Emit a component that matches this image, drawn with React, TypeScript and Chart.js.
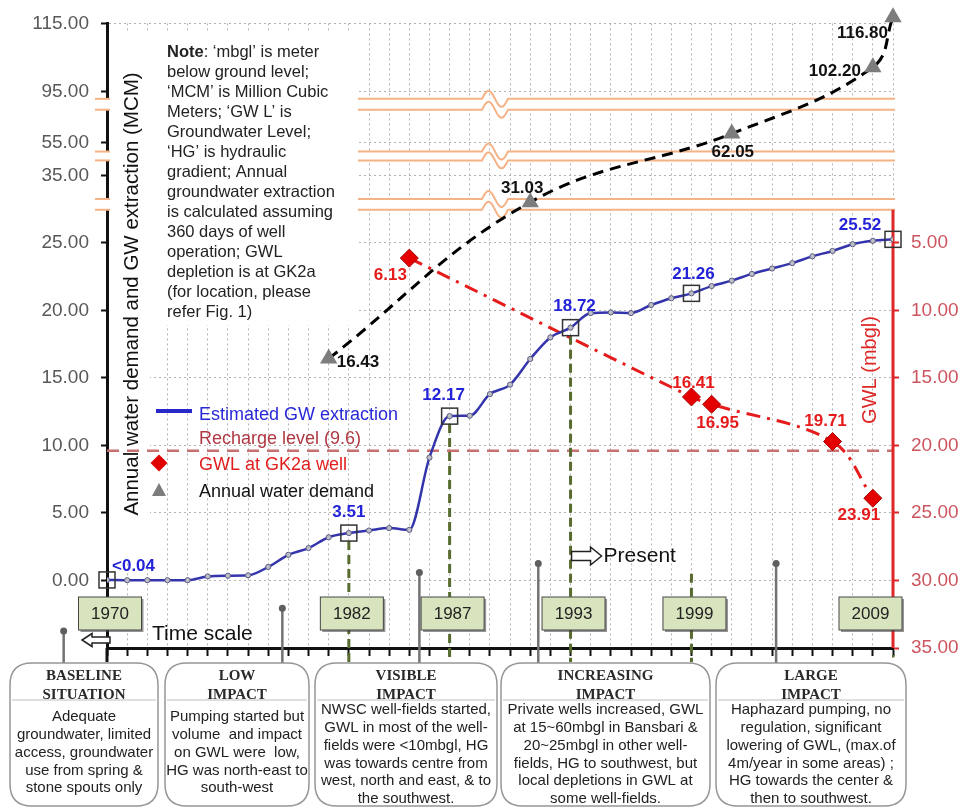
import React, { useEffect, useRef } from 'react';
import { Chart, LinearScale, registerables } from 'chart.js';

Chart.register(...registerables);

// ---------------- data ----------------
const years = [
  1970, 1971, 1972, 1973, 1974, 1975, 1976, 1977, 1978, 1979,
  1980, 1981, 1982, 1983, 1984, 1985, 1986, 1987, 1988, 1989,
  1990, 1991, 1992, 1993, 1994, 1995, 1996, 1997, 1998, 1999,
  2000, 2001, 2002, 2003, 2004, 2005, 2006, 2007, 2008, 2009,
];
const gwExtraction = [
  0.04, 0.02, 0.02, 0.02, 0.02, 0.3, 0.35, 0.38, 1.0, 1.9,
  2.4, 3.2, 3.51, 3.7, 3.88, 3.75, 9.1, 12.17, 12.2, 13.8,
  14.5, 16.4, 18.0, 18.72, 19.8, 19.85, 19.8, 20.4, 20.9, 21.26,
  21.8, 22.2, 22.7, 23.1, 23.5, 24.0, 24.4, 24.9, 25.3, 25.52,
];
const milestoneYears = [1970, 1982, 1987, 1993, 1999, 2009];
const milestoneLabels = ['<0.04', '3.51', '12.17', '18.72', '21.26', '25.52'];
const demandYears = [1981, 1991, 2001, 2008, 2009];
const demandValues = [16.43, 31.03, 62.05, 102.2, 116.8];
const gwlYears = [1985, 1999, 2000, 2006, 2008];
const gwlValues = [6.13, 16.41, 16.95, 19.71, 23.91];
const rechargeLevel = 9.6;
const leftTicks = [0, 5, 10, 15, 20, 25, 35, 55, 95, 115];
const rightTicks = [5, 10, 15, 20, 25, 30, 35];

// broken (compressed) left axis: value anchors and their compressed units
const axisBreakValues = [-5, 25, 35, 55, 95, 115];
const axisBreakUnits = [-5, 25, 30, 32.43, 36.18, 41.25];
const breakBands = [
  [29.9, 31.5],
  [44.1, 49.5],
  [80.9, 89.5],
];

const noteLines = [
  ['Note', ': \u2018mbgl\u2019 is meter'],
  ['', 'below ground level;'],
  ['', '\u2018MCM\u2019 is Million Cubic'],
  ['', 'Meters; \u2018GW L\u2019 is'],
  ['', 'Groundwater Level;'],
  ['', '\u2018HG\u2019 is hydraulic'],
  ['', 'gradient; Annual'],
  ['', 'groundwater extraction'],
  ['', 'is calculated assuming'],
  ['', '360 days of well'],
  ['', 'operation; GWL'],
  ['', 'depletion is at GK2a'],
  ['', '(for location, please'],
  ['', 'refer Fig. 1)'],
];

const phaseTitles = [
  ['BASELINE', 'SITUATION'],
  ['LOW', 'IMPACT'],
  ['VISIBLE', 'IMPACT'],
  ['INCREASING', 'IMPACT'],
  ['LARGE', 'IMPACT'],
];
const phaseTexts = [
  ['Adequate', 'groundwater, limited', 'access, groundwater', 'use from spring &', 'stone spouts only'],
  ['Pumping started but', 'volume  and impact', 'on GWL were  low,', 'HG was north-east to', 'south-west'],
  ['NWSC well-fields started,', 'GWL in most of the well-', 'fields were <10mbgl, HG', 'was towards centre from', 'west, north and east, & to', 'the southwest.'],
  ['Private wells increased, GWL', 'at 15~60mbgl in Bansbari &', '20~25mbgl in other well-', 'fields, HG to southwest, but', 'local depletions in GWL at', 'some well-fields.'],
  ['Haphazard pumping, no', 'regulation, significant', 'lowering of GWL, (max.of', '4m/year in some areas) ;', 'HG towards the center &', 'then to southwest.'],
];

// ---------------- styles ----------------
const SANS = '"Liberation Sans", Arial, sans-serif';
const SERIF = '"Liberation Serif", "Times New Roman", serif';
const BLUE = 'rgb(52,52,172)';
const BLUE_TXT = 'rgb(35,35,215)';
const RED = 'rgb(230,28,28)';
const ORANGE = 'rgb(244,178,134)';
const OLIVE = 'rgb(88,108,48)';
const GRID = 'rgba(165,165,165,0.85)';

function interp(v: number, xs: number[], ys: number[]) {
  let i = 1;
  while (i < xs.length - 1 && v > xs[i]) i++;
  return ys[i - 1] + ((v - xs[i - 1]) * (ys[i] - ys[i - 1])) / (xs[i] - xs[i - 1]);
}

class BrokenScale extends LinearScale {
  getPixelForValue(value: number) {
    const u0 = axisBreakUnits[0];
    const u1 = axisBreakUnits[axisBreakUnits.length - 1];
    const u = interp(value, axisBreakValues, axisBreakUnits);
    return this.bottom - ((u - u0) / (u1 - u0)) * (this.bottom - this.top);
  }
  getValueForPixel(pixel: number) {
    const u0 = axisBreakUnits[0];
    const u1 = axisBreakUnits[axisBreakUnits.length - 1];
    const u = u0 + ((this.bottom - pixel) / (this.bottom - this.top)) * (u1 - u0);
    return interp(u, axisBreakUnits, axisBreakValues);
  }
}
(BrokenScale as any).id = 'broken';
(BrokenScale as any).defaults = (LinearScale as any).defaults;
Chart.register(BrokenScale as any);

function txt(ctx: CanvasRenderingContext2D, s: string, x: number, y: number, font: string, color: string, align: CanvasTextAlign = 'left') {
  ctx.font = font;
  ctx.fillStyle = color;
  ctx.textAlign = align;
  ctx.textBaseline = 'middle';
  ctx.fillText(s, x, y);
}

function hollowArrow(ctx: CanvasRenderingContext2D, xTail: number, xHead: number, y: number, headLen: number, bodyH: number, headH: number) {
  const d = xHead > xTail ? 1 : -1;
  const hx = xHead - d * headLen;
  ctx.beginPath();
  ctx.moveTo(xTail, y - bodyH / 2);
  ctx.lineTo(hx, y - bodyH / 2);
  ctx.lineTo(hx, y - headH / 2);
  ctx.lineTo(xHead, y);
  ctx.lineTo(hx, y + headH / 2);
  ctx.lineTo(hx, y + bodyH / 2);
  ctx.lineTo(xTail, y + bodyH / 2);
  ctx.closePath();
  ctx.fillStyle = '#fff';
  ctx.fill();
  ctx.strokeStyle = '#222';
  ctx.lineWidth = 1.5;
  ctx.stroke();
}

function roundRect(ctx: CanvasRenderingContext2D, x: number, y: number, w: number, h: number, r: number) {
  ctx.beginPath();
  ctx.moveTo(x + r, y);
  ctx.lineTo(x + w - r, y);
  ctx.quadraticCurveTo(x + w, y, x + w, y + r);
  ctx.lineTo(x + w, y + h - r);
  ctx.quadraticCurveTo(x + w, y + h, x + w - r, y + h);
  ctx.lineTo(x + r, y + h);
  ctx.quadraticCurveTo(x, y + h, x, y + h - r);
  ctx.lineTo(x, y + r);
  ctx.quadraticCurveTo(x, y, x + r, y);
  ctx.closePath();
}

const blueLabelOffsets: [number, number, CanvasTextAlign][] = [
  [5, -14, 'left'], [0, -21, 'center'], [-6, -21, 'center'], [4, -21, 'center'], [2, -19, 'center'], [-33, -14, 'center'],
];
const demandLabelOffsets: [number, number, CanvasTextAlign][] = [
  [8, 4, 'left'], [-8, -14, 'center'], [1, 19, 'center'], [-12, 4, 'right'], [-5, 16, 'right'],
];
const gwlLabelOffsets: [number, number, CanvasTextAlign][] = [
  [-19, 17, 'center'], [2, -14, 'center'], [6, 19, 'center'], [-7, -20, 'center'], [-14, 17, 'center'],
];
const phaseBoxX = [[10, 158], [165, 309], [315, 497], [501, 710], [716, 906]];
const stemYears = [1967.85, 1978.7, 1985.5, 1991.4, 2003.2];
const stemTops = [-3.75, -2.06, 0.59, 1.25, 1.25];

const decorPlugin = {
  id: 'decor',
  beforeDatasetsDraw(chart: any) {
    const { ctx, chartArea: ca, scales } = chart;
    const xs = scales.x;
    const ys = scales.y;
    ctx.save();
    // white panels (note + axis title)
    ctx.fillStyle = '#fff';
    ctx.fillRect(ca.left + 2, 33, 358 - ca.left - 2, 325 - 33);
    ctx.fillRect(ca.left + 2, 325, 150 - ca.left - 2, 560 - 325);

    // axis breaks
    for (const [lo, hi] of breakBands) {
      const yTop = ys.getPixelForValue(hi);
      const yBot = ys.getPixelForValue(lo);
      ctx.fillStyle = '#fff';
      ctx.fillRect(ca.left - 12, yTop, ca.right - ca.left + 14, yBot - yTop);
      ctx.strokeStyle = ORANGE;
      ctx.lineWidth = 2;
      ctx.setLineDash([]);
      for (const yy of [yTop, yBot]) {
        ctx.beginPath();
        ctx.moveTo(ca.left - 12, yy);
        ctx.lineTo(ca.left + 3, yy);
        ctx.stroke();
        ctx.beginPath();
        ctx.moveTo(358, yy);
        const w0 = 482;
        const P = 26;
        ctx.lineTo(w0, yy);
        for (let t = 0; t <= P; t += 1) {
          ctx.lineTo(w0 + t, yy - 8 * Math.sin((2 * Math.PI * t) / P));
        }
        ctx.lineTo(ca.right + 2, yy);
        ctx.stroke();
      }
    }

    // recharge level
    const yr = ys.getPixelForValue(rechargeLevel);
    ctx.strokeStyle = 'rgb(200,112,112)';
    ctx.lineWidth = 2.5;
    ctx.setLineDash([12, 8]);
    ctx.beginPath();
    ctx.moveTo(ca.left, yr);
    ctx.lineTo(ca.right, yr);
    ctx.stroke();

    // olive drop lines from milestones
    const mBlue = chart.getDatasetMeta(0).data;
    ctx.strokeStyle = OLIVE;
    ctx.lineWidth = 3;
    ctx.setLineDash([9, 5]);
    milestoneYears.forEach((yrr, k) => {
      if (k === 0 || k === milestoneYears.length - 1) return;
      const p = mBlue[years.indexOf(yrr)];
      const x = xs.getPixelForValue(yrr);
      const y0 = k === 4 ? ys.getPixelForValue(0.5) : p.y + 8;
      ctx.beginPath();
      ctx.moveTo(x, y0);
      ctx.lineTo(x, ca.bottom + 14);
      ctx.stroke();
    });
    ctx.setLineDash([]);

    // right axis (red) line
    const yStart = ys.getPixelForValue(breakBands[0][0]);
    ctx.strokeStyle = 'rgb(222,40,40)';
    ctx.lineWidth = 3;
    ctx.beginPath();
    ctx.moveTo(ca.right, yStart);
    ctx.lineTo(ca.right, ca.bottom);
    ctx.stroke();
    ctx.fillStyle = OLIVE;
    ctx.fillRect(ca.right - 1, ca.bottom + 7, 2.5, 2.5);

    // left axis extension below the time axis
    ctx.strokeStyle = '#111';
    ctx.lineWidth = 3;
    ctx.beginPath();
    ctx.moveTo(ca.left, ca.bottom);
    ctx.lineTo(ca.left, ca.bottom + 14);
    ctx.stroke();
    ctx.restore();
  },
  afterDatasetsDraw(chart: any) {
    const { ctx } = chart;
    ctx.save();
    const mBlue = chart.getDatasetMeta(0).data;
    milestoneYears.forEach((yr, k) => {
      const p = mBlue[years.indexOf(yr)];
      ctx.strokeStyle = '#333';
      ctx.lineWidth = 1.5;
      ctx.strokeRect(p.x - 8, p.y - 8, 16, 16);
      const [dx, dy, al] = blueLabelOffsets[k];
      txt(ctx, milestoneLabels[k], p.x + dx, p.y + dy, 'bold 17px ' + SANS, BLUE_TXT, al);
    });
    const mDem = chart.getDatasetMeta(1).data;
    demandValues.forEach((v, k) => {
      const p = mDem[k];
      const [dx, dy, al] = demandLabelOffsets[k];
      txt(ctx, v.toFixed(2), p.x + dx, p.y + dy, 'bold 17px ' + SANS, '#111', al);
    });
    const mGwl = chart.getDatasetMeta(2).data;
    gwlValues.forEach((v, k) => {
      const p = mGwl[k];
      const [dx, dy, al] = gwlLabelOffsets[k];
      txt(ctx, v.toFixed(2), p.x + dx, p.y + dy, 'bold 17px ' + SANS, RED, al);
    });
    ctx.restore();
  },
  afterDraw(chart: any) {
    const { ctx, chartArea: ca, scales } = chart;
    const xs = scales.x;
    const ys = scales.y;
    ctx.save();

    // axis titles
    ctx.save();
    ctx.translate(132, 294);
    ctx.rotate(-Math.PI / 2);
    txt(ctx, 'Annual water demand and GW extraction (MCM)', 0, 0, '20.5px ' + SANS, '#111', 'center');
    ctx.restore();
    ctx.save();
    ctx.translate(870, 370);
    ctx.rotate(-Math.PI / 2);
    txt(ctx, 'GWL (mbgl)', 0, 0, '20px ' + SANS, 'rgb(222,40,40)', 'center');
    ctx.restore();

    // note
    noteLines.forEach(([b, rest], i) => {
      const y = 52 + i * 20;
      let x = 167;
      if (b) {
        ctx.font = 'bold 16.5px ' + SANS;
        txt(ctx, b, x, y, 'bold 16.5px ' + SANS, '#222');
        x += ctx.measureText(b).width;
      }
      txt(ctx, rest, x, y, '16.5px ' + SANS, '#222');
    });

    // legend
    ctx.strokeStyle = 'rgb(40,40,200)';
    ctx.lineWidth = 4;
    ctx.beginPath();
    ctx.moveTo(156, 411);
    ctx.lineTo(192, 411);
    ctx.stroke();
    txt(ctx, 'Estimated GW extraction', 199, 415, '18px ' + SANS, 'rgb(40,40,215)');
    txt(ctx, 'Recharge level (9.6)', 199, 439, '18px ' + SANS, 'rgb(175,55,65)');
    ctx.fillStyle = 'rgb(225,0,0)';
    ctx.beginPath();
    ctx.moveTo(159, 454.5); ctx.lineTo(167.5, 463); ctx.lineTo(159, 471.5); ctx.lineTo(150.5, 463);
    ctx.closePath();
    ctx.fill();
    txt(ctx, 'GWL at GK2a well', 199, 465, '18px ' + SANS, 'rgb(225,30,30)');
    ctx.fillStyle = 'rgb(125,125,125)';
    ctx.beginPath();
    ctx.moveTo(159, 483); ctx.lineTo(166, 496); ctx.lineTo(152, 496);
    ctx.closePath();
    ctx.fill();
    txt(ctx, 'Annual water demand', 199, 492, '18px ' + SANS, '#111');

    // stems
    stemYears.forEach((yv, i) => {
      const x = xs.getPixelForValue(yv);
      const yt = ys.getPixelForValue(stemTops[i]);
      ctx.strokeStyle = 'rgb(115,115,115)';
      ctx.lineWidth = 2.5;
      ctx.beginPath();
      ctx.moveTo(x, yt);
      ctx.lineTo(x, 664);
      ctx.stroke();
      ctx.fillStyle = 'rgb(95,95,95)';
      ctx.beginPath();
      ctx.arc(x, yt, 3.5, 0, Math.PI * 2);
      ctx.fill();
    });

    // year boxes
    milestoneYears.forEach((yr) => {
      let cx = xs.getPixelForValue(yr) + 3;
      const w = 63;
      const h = 33;
      if (cx + w / 2 > 902) cx = 902 - w / 2;
      const x0 = cx - w / 2;
      const y0 = ca.bottom - 51;
      ctx.fillStyle = 'rgba(60,60,60,0.55)';
      ctx.fillRect(x0 + 2, y0 + 2, w, h);
      ctx.fillStyle = 'rgb(216,228,189)';
      ctx.fillRect(x0, y0, w, h);
      ctx.strokeStyle = 'rgb(70,70,70)';
      ctx.lineWidth = 1;
      ctx.strokeRect(x0, y0, w, h);
      txt(ctx, String(yr), cx, y0 + h / 2 + 1, '17px ' + SANS, '#222', 'center');
    });

    // time scale & present
    hollowArrow(ctx, 110, 82, 640, 10, 6, 13);
    txt(ctx, 'Time scale', 152, 634, '21px ' + SANS, '#111');
    const xp = xs.getPixelForValue(1993);
    hollowArrow(ctx, xp + 1, xp + 31, 556, 11, 9, 18);
    txt(ctx, 'Present', xp + 33, 556, '21px ' + SANS, '#111');

    // phase boxes
    phaseBoxX.forEach(([a, b], i) => {
      const top = 663;
      const bot = 806;
      roundRect(ctx, a, top, b - a, bot - top, 22);
      ctx.fillStyle = '#fff';
      ctx.fill();
      ctx.strokeStyle = 'rgb(150,150,150)';
      ctx.lineWidth = 1.5;
      ctx.stroke();
      ctx.strokeStyle = 'rgb(190,190,190)';
      ctx.lineWidth = 1;
      ctx.beginPath();
      ctx.moveTo(a + 2, 700);
      ctx.lineTo(b - 2, 700);
      ctx.stroke();
      const cx = (a + b) / 2;
      phaseTitles[i].forEach((t, j) => {
        txt(ctx, t, cx, 676 + j * 19, 'bold 15px ' + SERIF, '#2a2a2a', 'center');
      });
      const lines = phaseTexts[i];
      const y0 = lines.length > 5 ? 710 : 717;
      lines.forEach((t, j) => {
        txt(ctx, t, cx, y0 + j * 17.8, '15px ' + SANS, '#222', 'center');
      });
    });
    ctx.restore();
  },
};

export default function App() {
  const ref = useRef<HTMLCanvasElement>(null);
  useEffect(() => {
    document.body.style.margin = '0';
    const canvas = ref.current!;
    const chart = new Chart(canvas, {
      type: 'line',
      data: {
        datasets: [
          {
            label: 'Estimated GW extraction',
            data: years.map((y, i) => ({ x: y, y: gwExtraction[i] })),
            yAxisID: 'y',
            borderColor: BLUE,
            borderWidth: 2.5,
            pointRadius: 2.6,
            pointBackgroundColor: 'rgb(190,190,198)',
            pointBorderColor: 'rgb(90,90,130)',
            pointBorderWidth: 1,
            cubicInterpolationMode: 'monotone',
            fill: false,
          },
          {
            label: 'Annual water demand',
            data: demandYears.map((y, i) => ({ x: y, y: demandValues[i] })),
            yAxisID: 'y',
            borderColor: '#000',
            borderWidth: 3,
            borderDash: [11, 7],
            pointStyle: 'triangle',
            pointRadius: 7,
            pointBackgroundColor: 'rgb(125,125,125)',
            pointBorderColor: 'rgb(125,125,125)',
            tension: 0.4,
            clip: false,
            fill: false,
          },
          {
            label: 'GWL at GK2a well',
            data: gwlYears.map((y, i) => ({ x: y, y: gwlValues[i] })),
            yAxisID: 'yR',
            borderColor: RED,
            borderWidth: 3,
            borderDash: [14, 7, 3, 7],
            pointStyle: 'rectRot',
            pointRadius: 9,
            pointBackgroundColor: 'rgb(228,0,0)',
            pointBorderColor: 'rgb(170,0,0)',
            pointBorderWidth: 1,
            tension: 0.35,
            fill: false,
          },
        ],
      },
      options: {
        responsive: false,
        animation: false,
        devicePixelRatio: 1,
        layout: { padding: { top: 19, left: 0, right: 0, bottom: 0 } },
        plugins: { legend: { display: false }, tooltip: { enabled: false } },
        scales: {
          x: {
            type: 'linear',
            position: 'bottom',
            min: 1970,
            max: 2009,
            afterBuildTicks: (s: any) => {
              s.ticks = years.map((v) => ({ value: v }));
            },
            afterFit: (s: any) => {
              s.height = 161;
            },
            ticks: { display: false },
            grid: { color: GRID, lineWidth: 1, tickLength: 8, tickColor: '#111', tickWidth: 2 },
            border: { display: true, color: '#111', width: 3, dash: [2, 3] },
          },
          y: {
            type: 'broken' as any,
            position: 'left',
            min: -5,
            max: 115,
            afterBuildTicks: (s: any) => {
              s.ticks = leftTicks.map((v) => ({ value: v }));
            },
            afterFit: (s: any) => {
              s.width = 107;
            },
            ticks: {
              autoSkip: false,
              padding: 12,
              color: 'rgb(88,88,88)',
              font: { family: SANS, size: 19 },
              callback: (v: any) => Number(v).toFixed(2),
            },
            grid: { color: GRID, lineWidth: 1, tickLength: 6, tickColor: '#111', tickWidth: 2 },
            border: { display: true, color: '#111', width: 3, dash: [2, 3] },
          },
          yR: {
            type: 'linear',
            position: 'right',
            reverse: true,
            min: -11.25,
            max: 35,
            afterBuildTicks: (s: any) => {
              s.ticks = rightTicks.map((v) => ({ value: v }));
            },
            afterFit: (s: any) => {
              s.width = 70;
            },
            ticks: {
              autoSkip: false,
              padding: 12,
              color: 'rgb(205,85,95)',
              font: { family: SANS, size: 19 },
              callback: (v: any) => Number(v).toFixed(2),
            },
            grid: { drawOnChartArea: false, tickLength: 6, tickColor: 'rgb(222,40,40)', tickWidth: 2 },
            border: { display: false },
          },
        },
      },
      plugins: [decorPlugin],
    } as any);
    return () => chart.destroy();
  }, []);
  return (
    <div style={{ width: 963, height: 809, position: 'relative' }}>
      <canvas ref={ref} width={963} height={809} style={{ display: 'block', width: 963, height: 809 }} />
    </div>
  );
}
